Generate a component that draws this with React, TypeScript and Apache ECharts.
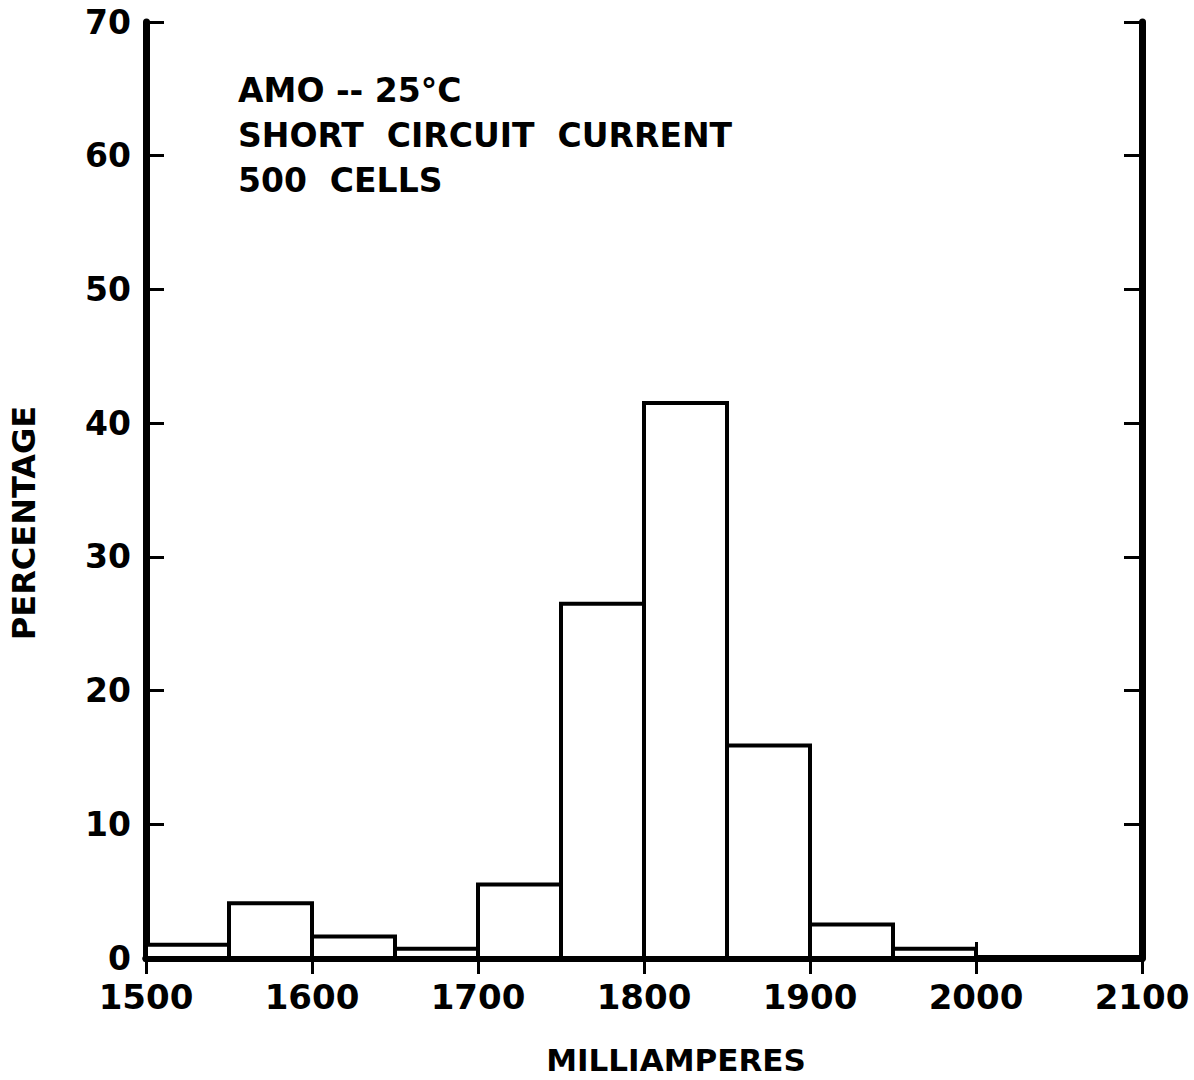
import React, { useEffect, useRef } from "react";
import * as echarts from "echarts";

const binStarts = [1500, 1550, 1600, 1650, 1700, 1750, 1800, 1850, 1900, 1950];
const binWidth = 50;
const percentages = [1.0, 4.1, 1.6, 0.7, 5.5, 26.5, 41.5, 15.9, 2.5, 0.7];
const annotationLines = ["AMO -- 25°C", "SHORT  CIRCUIT  CURRENT", "500  CELLS"];
const xMin = 1500;
const xMax = 2100;
const xStep = 100;
const yMin = 0;
const yMax = 70;
const yStep = 10;

const FONT = "DejaVu Sans";

export default function App() {
  const ref = useRef<HTMLDivElement>(null);
  useEffect(() => {
    if (!ref.current) return;
    const chart = echarts.init(ref.current, null, { renderer: "svg" });
    const data = binStarts.map((s, i) => [s, s + binWidth, percentages[i]]);
    const axisLine = { show: true, lineStyle: { color: "#000", width: 7 } };
    const tick = (len: number) => ({ show: true, inside: true, length: len, lineStyle: { color: "#000", width: 3 } });
    const option: any = {
      animation: false,
      backgroundColor: "#fff",
      grid: { left: 138, right: 52, top: 22, bottom: 109, containLabel: false },
      xAxis: [
        {
          type: "value",
          position: "bottom",
          min: xMin,
          max: xMax,
          interval: xStep,
          axisLine,
          axisTick: tick(16),
          splitLine: { show: false },
          axisLabel: {
            color: "#000",
            fontSize: 34,
            fontFamily: FONT,
            fontWeight: "bold",
            margin: 22,
            formatter: (v: number) => String(v),
          },
          name: "MILLIAMPERES",
          nameLocation: "middle",
          nameGap: 86,
          nameTextStyle: { color: "#000", fontSize: 31, fontFamily: FONT, fontWeight: "bold", padding: [0, 0, 0, 64] },
        },
        {
          type: "value",
          position: "top",
          min: xMin,
          max: xMax,
          interval: xStep,
          axisLine,
          axisTick: tick(16),
          splitLine: { show: false },
          axisLabel: { show: false },
        },
      ],
      yAxis: [
        {
          type: "value",
          position: "left",
          min: yMin,
          max: yMax,
          interval: yStep,
          axisLine,
          axisTick: tick(18),
          splitLine: { show: false },
          axisLabel: { color: "#000", fontSize: 33, fontFamily: FONT, fontWeight: "bold", margin: 15 },
          name: "PERCENTAGE",
          nameLocation: "middle",
          nameGap: 106,
          nameTextStyle: { color: "#000", fontSize: 32, fontFamily: FONT, fontWeight: "bold", padding: [0, 66, 0, 0] },
        },
        {
          type: "value",
          position: "right",
          min: yMin,
          max: yMax,
          interval: yStep,
          axisLine,
          axisTick: tick(18),
          splitLine: { show: false },
          axisLabel: { show: false },
        },
      ],
      series: [
        {
          type: "custom",
          xAxisIndex: 0,
          yAxisIndex: 0,
          data,
          encode: { x: [0, 1], y: 2 },
          renderItem: (params: any, api: any) => {
            const x0 = api.value(0);
            const x1 = api.value(1);
            const v = api.value(2);
            const p0 = api.coord([x0, v]);
            const p1 = api.coord([x1, 0]);
            return {
              type: "rect",
              shape: { x: p0[0], y: p0[1], width: p1[0] - p0[0], height: p1[1] - p0[1] },
              style: { fill: "#fff", stroke: "#000", lineWidth: 4 },
            };
          },
          z: 1,
        },
      ],
      graphic: annotationLines.map((t, i) => ({
        type: "text",
        left: 238,
        top: 74 + i * 45,
        style: { text: t, fill: "#000", fontSize: 33, fontFamily: FONT, fontWeight: "bold" },
      })),
    };
    chart.setOption(option);
    return () => chart.dispose();
  }, []);
  return <div ref={ref} style={{ position: "fixed", left: 0, top: 0, width: 1194, height: 1080, background: "#fff" }} />;
}
